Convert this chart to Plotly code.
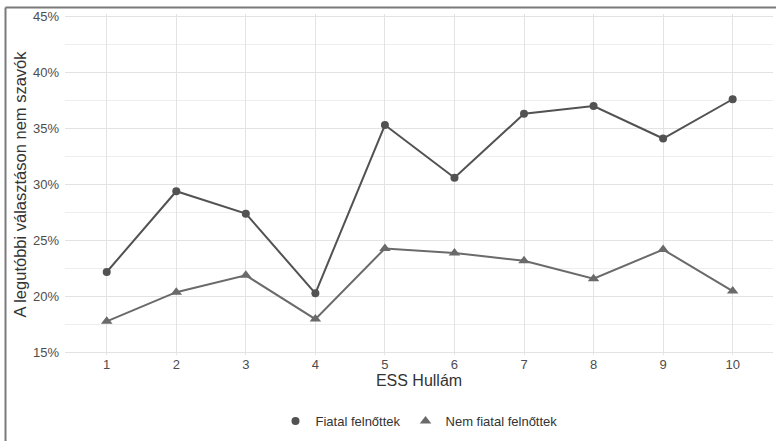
import plotly.graph_objects as go

waves = [1, 2, 3, 4, 5, 6, 7, 8, 9, 10]
fiatal = [22.2, 29.4, 27.4, 20.3, 35.3, 30.6, 36.3, 37.0, 34.1, 37.6]
nem_fiatal = [17.8, 20.4, 21.9, 18.0, 24.3, 23.9, 23.2, 21.6, 24.2, 20.5]
y_ticks = [15, 20, 25, 30, 35, 40, 45]
y_ticklabels = [f"{v}%" for v in y_ticks]

FONT = "Liberation Sans, Arial, sans-serif"
C1, C2 = "#525252", "#6a6a6a"

fig = go.Figure()
fig.add_trace(go.Scatter(
    x=waves, y=fiatal, mode="lines+markers", name="Fiatal felnőttek",
    line=dict(color=C1, width=2),
    marker=dict(symbol="circle", size=8, color=C1), showlegend=False,
))
fig.add_trace(go.Scatter(
    x=waves, y=nem_fiatal, mode="lines+markers", name="Nem fiatal felnőttek",
    line=dict(color=C2, width=2),
    marker=dict(symbol="triangle-up", size=10, color=C2), showlegend=False,
))
# legend entries (markers only, like the reference key)
fig.add_trace(go.Scatter(x=[None], y=[None], mode="markers", name="Fiatal felnőttek",
                         marker=dict(symbol="circle", size=8, color=C1)))
fig.add_trace(go.Scatter(x=[None], y=[None], mode="markers", name="Nem fiatal felnőttek",
                         marker=dict(symbol="triangle-up", size=10, color=C2)))

L, R, T, B = 65, 3, 14, 86
W, H = 776, 441
pw, ph = W - L - R, H - T - B

def px2x(px):
    return (px - L) / pw

def py2y(py):
    return 1 - (py - T) / ph

fig.add_shape(type="line", xref="paper", yref="paper",
              x0=px2x(5.5), x1=px2x(W), y0=py2y(7.5), y1=py2y(7.5),
              line=dict(color="#7a7a7a", width=2))
fig.add_shape(type="line", xref="paper", yref="paper",
              x0=px2x(5.5), x1=px2x(5.5), y0=py2y(7.5), y1=py2y(H),
              line=dict(color="#7a7a7a", width=2))

fig.update_layout(
    width=W, height=H,
    margin=dict(l=L, r=R, t=T, b=B, autoexpand=False),
    paper_bgcolor="white", plot_bgcolor="white",
    font=dict(family=FONT, color="#4d4d4d", size=13),
    showlegend=True,
    legend=dict(orientation="h", x=0.5, xanchor="center", y=py2y(421), yanchor="middle",
                font=dict(size=13, color="#333333"), itemwidth=30, tracegroupgap=0),
    xaxis=dict(
        range=[0.4, 10.58], tickmode="array", tickvals=waves,
        ticktext=[str(w) for w in waves], automargin=False,
        showgrid=True, gridcolor="#e3e3e3", gridwidth=1.2, zeroline=False,
        showline=False, ticks="",
        title=dict(text="ESS Hullám", font=dict(size=16, color="#333333"), standoff=3),
        tickfont=dict(size=13, color="#4d4d4d"),
    ),
    yaxis=dict(
        range=[14.8, 45.2], tickmode="array", tickvals=y_ticks, ticktext=y_ticklabels,
        showgrid=True, gridcolor="#e3e3e3", gridwidth=1.2, zeroline=False,
        showline=False, ticks="", automargin=False, ticklabelstandoff=5,
        minor=dict(dtick=2.5, tick0=15, showgrid=True, gridcolor="#eeeeee", gridwidth=1),
        title=dict(text="A legutóbbi választáson nem szavók", font=dict(size=16.5, color="#333333"), standoff=2),
        tickfont=dict(size=13, color="#4d4d4d"),
    ),
)

fig.write_html(
    "out.html",
    config={"displayModeBar": False},
    post_script="document.body.style.margin='0';document.body.style.overflow='hidden';",
)
